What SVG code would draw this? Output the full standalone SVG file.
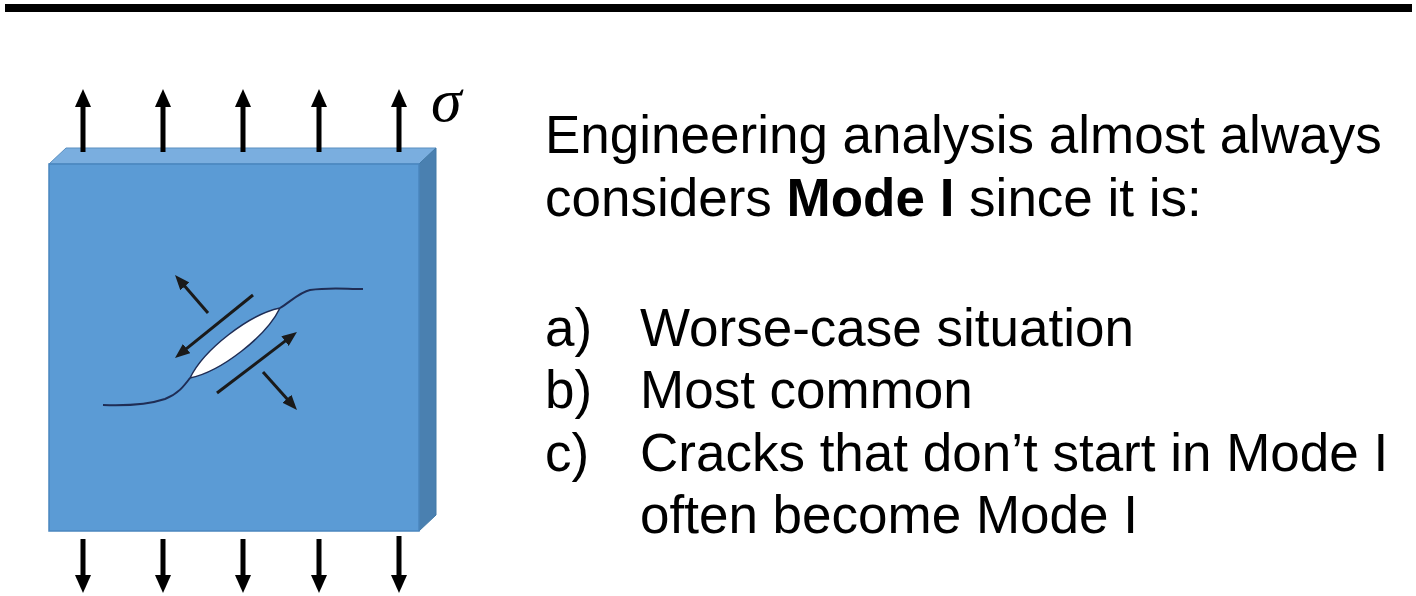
<svg xmlns="http://www.w3.org/2000/svg" width="1416" height="596" viewBox="0 0 1416 596">
  <style>
    .txt { font-family: "Liberation Sans", Arial, sans-serif; font-size: 53px; fill: #000; }
    .load { stroke: #000; stroke-width: 5; fill: none; }
    .shear { stroke: #1a1a1a; stroke-width: 3; fill: none; }
    .crackline { stroke: #1f2d55; stroke-width: 2; fill: none; }
  </style>
  <defs>
    <marker id="bigHead" markerUnits="userSpaceOnUse" markerWidth="18" markerHeight="16" refX="6" refY="8" orient="auto">
      <path d="M0,0 L18,8 L0,16 Z" fill="#000"/>
    </marker>
    <marker id="smallHead" markerUnits="userSpaceOnUse" markerWidth="15" markerHeight="12" refX="5" refY="6" orient="auto">
      <path d="M0,0 L15,6 L0,12 Z" fill="#1a1a1a"/>
    </marker>
  </defs>

  <rect id="header-rule" x="5" y="4" width="1407" height="8" fill="#000"/>

  <!-- plate under tension -->
  <g id="plate">
    <polygon points="49,164 66,148 436,148 419,164" fill="#7aaedf" stroke="#5a8fc0" stroke-width="1"/>
    <polygon points="419,164 436,148 436,515 419,531" fill="#4a80b0" stroke="#427aa8" stroke-width="1"/>
    <rect x="49" y="164" width="370" height="367" fill="#5b9bd5" stroke="#4a86be" stroke-width="1.5"/>
  </g>

  <!-- crack with opening lips -->
  <g id="crack">
    <path class="crackline" d="M103,405 C130,406 150,404 165,399 C178,394 184,386 190,378"/>
    <path class="crackline" d="M280,308 C290,302 300,292 310,290 C330,287 345,289 363,289"/>
    <path d="M190,378 C221.1,371.5 266.1,336.5 280,308 C248.9,314.5 203.9,349.5 190,378 Z" fill="#fff" stroke="#1f2d55" stroke-width="1.5"/>
  </g>

  <!-- local stress arrows around the crack -->
  <g id="crack-arrows">
    <line class="shear" x1="208" y1="313" x2="181.6" y2="282.6" marker-end="url(#smallHead)"/>
    <line class="shear" x1="263" y1="372" x2="290.3" y2="402.5" marker-end="url(#smallHead)"/>
    <line class="shear" x1="253" y1="295" x2="182.8" y2="351.7" marker-end="url(#smallHead)"/>
    <line class="shear" x1="217" y1="393" x2="289" y2="338.1" marker-end="url(#smallHead)"/>
  </g>

  <!-- applied remote stress -->
  <g id="loads">
    <line class="load" x1="83" y1="152" x2="83" y2="101" marker-end="url(#bigHead)"/>
    <line class="load" x1="163" y1="152" x2="163" y2="101" marker-end="url(#bigHead)"/>
    <line class="load" x1="243" y1="152" x2="243" y2="101" marker-end="url(#bigHead)"/>
    <line class="load" x1="319" y1="152" x2="319" y2="101" marker-end="url(#bigHead)"/>
    <line class="load" x1="399" y1="152" x2="399" y2="101" marker-end="url(#bigHead)"/>
    <line class="load" x1="83" y1="539" x2="83" y2="581" marker-end="url(#bigHead)"/>
    <line class="load" x1="163" y1="539" x2="163" y2="581" marker-end="url(#bigHead)"/>
    <line class="load" x1="243" y1="539" x2="243" y2="581" marker-end="url(#bigHead)"/>
    <line class="load" x1="319" y1="539" x2="319" y2="581" marker-end="url(#bigHead)"/>
    <line class="load" x1="399" y1="536" x2="399" y2="581" marker-end="url(#bigHead)"/>
  </g>

  <text id="sigma" x="431" y="121" font-family="'Liberation Serif', 'Times New Roman', serif" font-style="italic" font-size="62" fill="#000">σ</text>

  <g id="notes">
    <text class="txt" x="545" y="153">Engineering analysis almost always</text>
    <text class="txt" x="545" y="216">considers <tspan font-weight="bold">Mode I</tspan> since it is:</text>
    <text class="txt" x="545" y="345.5">a)</text>
    <text class="txt" x="640" y="345.5">Worse-case situation</text>
    <text class="txt" x="545" y="408">b)</text>
    <text class="txt" x="640" y="408">Most common</text>
    <text class="txt" x="545" y="470.5">c)</text>
    <text class="txt" x="640" y="470.5">Cracks that don’t start in Mode I</text>
    <text class="txt" x="640" y="533">often become Mode I</text>
  </g>
</svg>
